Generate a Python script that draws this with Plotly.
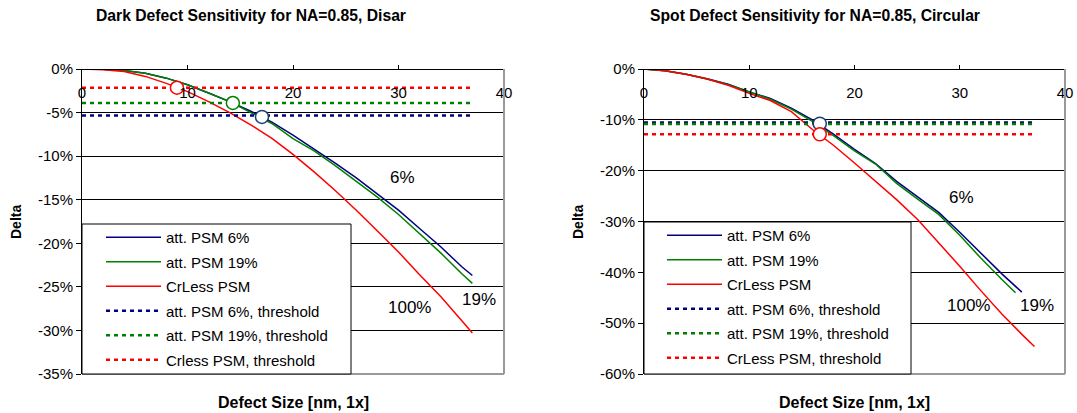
import plotly.graph_objects as go

# ---------------- data: left chart (Dark defect, Disar) ----------------
left_x = [0, 2, 4, 6, 8, 10, 12, 14, 16, 18, 20, 22, 24, 26, 28, 30, 32, 34, 36, 37]
left_att6 = [0, -0.04, -0.17, -0.5, -1.05, -1.8, -2.76, -3.75, -4.85, -6.1, -7.6, -9.15,
             -10.8, -12.5, -14.3, -16.2, -18.3, -20.4, -22.7, -23.7]
left_att19 = [0, -0.04, -0.17, -0.5, -1.05, -1.8, -2.76, -3.75, -5.0, -6.25, -8.0, -9.4,
              -11.1, -12.9, -14.7, -16.7, -18.9, -21.1, -23.5, -24.6]
left_crless = [0, -0.1, -0.3, -0.85, -1.65, -2.6, -3.75, -5.0, -6.4, -7.95, -9.8, -11.8,
               -13.95, -16.2, -18.6, -21.0, -23.6, -26.1, -28.9, -30.3]
left_thr_x = [0, 37]
left_thr_att6 = -5.33
left_thr_att19 = -3.9
left_thr_crless = -2.15
left_cross_x = [17.06, 14.3, 9.0]
left_cross_y = [-5.5, -3.9, -2.15]
left_yticks = [0, -5, -10, -15, -20, -25, -30, -35]
left_yticktext = ["0%", "-5%", "-10%", "-15%", "-20%", "-25%", "-30%", "-35%"]
left_labels = ["6%", "100%", "19%"]
left_label_x = [30.4, 31.0, 37.6]
left_label_y = [-12.5, -27.4, -26.5]

# ---------------- data: right chart (Spot defect, Circular) ----------------
right_x_att6 = [0, 2, 4, 6, 8, 10, 12, 14, 16, 18, 20, 22, 24, 26, 28, 30, 32, 34, 35.9]
right_att6 = [0, -0.35, -1.05, -1.9, -3.0, -4.5, -5.8, -7.7, -10.0, -12.8, -15.8, -18.6,
              -22.1, -25.2, -28.2, -32.1, -36.3, -40.3, -43.9]
right_x_att19 = [0, 2, 4, 6, 8, 10, 12, 14, 16, 18, 20, 22, 24, 26, 28, 30, 32, 34, 35.3]
right_att19 = [0, -0.35, -1.05, -1.95, -3.1, -4.6, -5.95, -7.9, -10.3, -13.1, -16.1, -18.7,
               -22.5, -25.6, -28.6, -32.7, -37.2, -41.4, -44.0]
right_x_crless = [0, 2, 4, 6, 8, 10, 12, 14, 16, 18, 20, 22, 24, 26, 28, 30, 32, 34, 36, 37.1]
right_crless = [0, -0.35, -1.05, -1.95, -3.2, -4.8, -6.2, -8.4, -11.9, -15.0, -18.5, -22.1,
                -25.7, -29.6, -34.1, -38.8, -43.6, -48.2, -52.4, -54.6]
right_thr_x = [0, 37]
right_thr_att6 = -10.5
right_thr_att19 = -10.8
right_thr_crless = -12.85
right_cross_x = [16.7, 16.7]
right_cross_y = [-10.75, -12.85]
right_yticks = [0, -10, -20, -30, -40, -50, -60]
right_yticktext = ["0%", "-10%", "-20%", "-30%", "-40%", "-50%", "-60%"]
right_labels = ["6%", "100%", "19%"]
right_label_x = [30.2, 30.8, 37.3]
right_label_y = [-25.2, -46.6, -46.6]

xticks = [0, 10, 20, 30, 40]

names_left = ["att. PSM 6%", "att. PSM 19%", "CrLess PSM",
              "att. PSM 6%, threshold", "att. PSM 19%, threshold", "Crless PSM, threshold"]
names_right = ["att. PSM 6%", "att. PSM 19%", "CrLess PSM",
               "att. PSM 6%, threshold", "att. PSM 19%, threshold", "CrLess PSM, threshold"]

BLUE = "#000080"
GREEN = "#008000"
RED = "#FF0000"
CIRC_BLUE = "#1F3F73"
FONT = "Arial, Liberation Sans, sans-serif"

W, H = 1077, 413
fig = go.Figure()


def add_chart(xa, ya, leg, xs, ys, thr_x, thr, names, cross_x, cross_y, cross_cols, grp):
    cols = [BLUE, GREEN, RED]
    for i in range(3):
        fig.add_trace(go.Scatter(x=xs[i], y=ys[i], mode="lines", name=names[i],
                                 line=dict(color=cols[i], width=1.5),
                                 xaxis=xa, yaxis=ya, legend=leg,
                                 legendgroup=f"{grp}{i}"))
    for i in range(3):
        fig.add_trace(go.Scatter(x=thr_x, y=[thr[i], thr[i]], mode="lines", name=names[3 + i],
                                 line=dict(color=cols[i], width=2.5, dash="4px,4px"),
                                 xaxis=xa, yaxis=ya, legend=leg,
                                 legendgroup=f"{grp}{3 + i}"))
    fig.add_trace(go.Scatter(x=cross_x, y=cross_y, mode="markers", showlegend=False,
                             marker=dict(size=13, color="white",
                                         line=dict(color=cross_cols, width=1.5)),
                             xaxis=xa, yaxis=ya))


add_chart("x", "y", "legend", [left_x, left_x, left_x],
          [left_att6, left_att19, left_crless], left_thr_x,
          [left_thr_att6, left_thr_att19, left_thr_crless], names_left,
          left_cross_x, left_cross_y, [CIRC_BLUE, GREEN, RED], "L")
add_chart("x2", "y2", "legend2", [right_x_att6, right_x_att19, right_x_crless],
          [right_att6, right_att19, right_crless], right_thr_x,
          [right_thr_att6, right_thr_att19, right_thr_crless], names_right,
          right_cross_x, right_cross_y, [CIRC_BLUE, RED], "R")

pl_top, pl_bot = 69, 374
ydom = [(H - pl_bot) / H, (H - pl_top) / H]
xdom1 = [82 / W, 504 / W]
xdom2 = [644 / W, 1065 / W]

xcommon = dict(range=[0, 40], tickvals=xticks, side="bottom", anchor="free", position=ydom[1],
               showline=True, linecolor="black", linewidth=1, ticks="inside", ticklen=4,
               tickcolor="black", ticklabelstandoff=10, showgrid=False, zeroline=False,
               automargin=False, tickfont=dict(size=15, color="black", family=FONT))
ycommon = dict(showgrid=True, gridcolor="black", gridwidth=1, showline=True, linecolor="black",
               linewidth=1, ticks="outside", ticklen=5, tickcolor="black", zeroline=False,
               automargin=False, tickfont=dict(size=15, color="black", family=FONT))

legcommon = dict(bgcolor="rgba(0,0,0,0)", borderwidth=0,
                 font=dict(size=15, color="black", family=FONT), tracegroupgap=2,
                 xanchor="left", yanchor="top", itemwidth=55, itemclick=False,
                 itemdoubleclick=False)

fig.update_layout(
    width=W, height=H, margin=dict(l=0, r=0, t=0, b=0, autoexpand=False),
    paper_bgcolor="white", plot_bgcolor="white",
    font=dict(family=FONT, size=15, color="black"),
    xaxis=dict(domain=xdom1, **xcommon),
    yaxis=dict(domain=ydom, anchor="x", range=[-35, 0], tickvals=left_yticks,
               ticktext=left_yticktext, **ycommon),
    xaxis2=dict(domain=xdom2, **xcommon),
    yaxis2=dict(domain=ydom, anchor="x2", range=[-60, 0], tickvals=right_yticks,
                ticktext=right_yticktext, **ycommon),
    legend=dict(x=101 / W, y=1 - 221 / H, **legcommon),
    legend2=dict(x=662 / W, y=1 - 219 / H, **legcommon),
    showlegend=True,
)

# plot-area border (gray on right and bottom) and legend boxes
for xr, yr in (("x domain", "y domain"), ("x2 domain", "y2 domain")):
    fig.add_shape(type="line", xref=xr, yref=yr, x0=1, x1=1, y0=0, y1=1,
                  line=dict(color="#9a9a9a", width=2), layer="above")
    fig.add_shape(type="line", xref=xr, yref=yr, x0=0, x1=1, y0=0, y1=0,
                  line=dict(color="#9a9a9a", width=2), layer="above")
for bx0, bx1, by0 in ((82, 351, 224), (644, 911, 222)):
    fig.add_shape(type="rect", xref="paper", yref="paper", x0=bx0 / W, x1=bx1 / W,
                  y0=1 - pl_bot / H, y1=1 - by0 / H, fillcolor="white",
                  line=dict(color="black", width=1), layer="above")

ann = []
# titles
for t, cx in (("<b>Dark Defect Sensitivity for NA=0.85, Disar</b>", 251),
              ("<b>Spot Defect Sensitivity for NA=0.85, Circular</b>", 815)):
    ann.append(dict(text=t, x=cx / W, y=1 - 16 / H, xref="paper", yref="paper",
                    xanchor="center", yanchor="middle", showarrow=False,
                    font=dict(size=15.7, family=FONT)))
# axis titles
for cx in (293, 854):
    ann.append(dict(text="<b>Defect Size [nm, 1x]</b>", x=cx / W, y=1 - 402 / H, xref="paper",
                    yref="paper", xanchor="center", yanchor="middle", showarrow=False,
                    font=dict(size=16, family=FONT)))
for cx in (16, 578):
    ann.append(dict(text="<b>Delta</b>", x=cx / W, y=1 - 222 / H, xref="paper", yref="paper",
                    xanchor="center", yanchor="middle", showarrow=False, textangle=-90,
                    font=dict(size=14, family=FONT)))
# curve labels
for t, lx, ly in zip(left_labels, left_label_x, left_label_y):
    ann.append(dict(text=t, x=lx, y=ly, xref="x", yref="y", showarrow=False,
                    xanchor="center", yanchor="middle", font=dict(size=17, family=FONT)))
for t, lx, ly in zip(right_labels, right_label_x, right_label_y):
    ann.append(dict(text=t, x=lx, y=ly, xref="x2", yref="y2", showarrow=False,
                    xanchor="center", yanchor="middle", font=dict(size=17, family=FONT)))
fig.update_layout(annotations=ann)

fig.write_html("out.html", config={"displayModeBar": False},
               post_script="document.body.style.margin='0px';")
